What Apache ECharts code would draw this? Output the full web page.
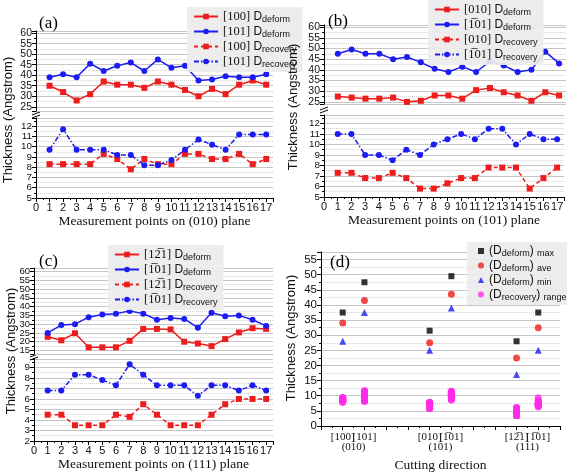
<!DOCTYPE html>
<html><head><meta charset="utf-8">
<script src="https://cdn.jsdelivr.net/npm/echarts@6/dist/echarts.min.js"></script>
<style>html,body{margin:0;padding:0;background:#fff}#c{width:567px;height:473px}</style>
</head><body><div id="c"></div>
<script>
// ---------- data ----------
const points = [1,2,3,4,5,6,7,8,9,10,11,12,13,14,15,16,17];
// (a) (010) plane
const a_def100 = [35,32,28,31,37,35.5,35.5,34,37,35.5,33,30,33.5,31,35.5,37.5,35.5];
const a_def101 = [39,40.5,39,45.5,42,44.5,46,42,47.5,43.5,44.5,37.5,38,39.5,39,39,40.5];
const a_rec100 = [8.3,8.3,8.3,8.3,9.3,8.8,7.8,8.8,8.3,8.3,9.3,9.3,8.8,8.8,9.3,8.3,8.8];
const a_rec101 = [9.7,11.7,9.7,9.7,9.7,9.2,9.2,8.2,8.2,8.7,9.7,10.7,10.2,9.7,11.2,11.2,11.2];
// (b) (101) plane
const b_def010 = [27.5,27,26.5,26.5,27,25,25.5,28,28,26.5,30.5,31.5,29.5,28,25.5,29.5,28];
const b_defm101 = [47.5,49.5,47.5,47.5,45,46,43.5,40.5,39,41.5,39,44,42,39,40,48.5,43];
const b_rec010 = [7.3,7.3,6.8,6.8,7.3,6.8,5.8,5.8,6.3,6.8,6.8,7.8,7.8,7.8,5.8,6.8,7.8];
const b_recm101 = [11,11,9,9,8.5,9.5,9,10,10.5,11,10.5,11.5,11.5,10,11,10.5,10.5];
// (c) (111) plane
const c_def1m21 = [22.8,20.8,24.8,16.8,16.8,16.8,20.5,27.3,27.3,27,20,19,17.5,21.5,25.3,27.7,27.3];
const c_defm101 = [25,29.5,30,34,35.5,36,37.5,36,32.5,33.5,33,28,36.5,34.5,35,32.5,29];
const c_rec1m21 = [4.5,4.5,3.5,3.5,3.5,4.5,4.3,5.5,4.5,3.5,3.5,3.5,4.5,5.5,6,6,6];
const c_recm101 = [6.8,6.8,8.3,8.3,7.8,7.3,9.3,8.3,7.3,7.3,7.3,6.3,7.3,7.3,6.8,7.3,6.8];
// (d) summary
const d_pos = [1,2,5,6,9,10];
const d_max = [37.5,47.5,31.5,49.5,28,37.5];
const d_ave = [34,41.5,27.5,43.5,22.5,32.5];
const d_min = [28,37.5,25,39,17,25];
const d_rec = [a_rec100,a_rec101,b_rec010,b_recm101,c_rec1m21,c_recm101];

const OB = '\u0305';
const dirLabels = {1:'[100]',2:'[101]',5:'[010]',6:'[1'+OB+'01]',9:'[12'+OB+'1]',10:'[1'+OB+'01]'};
const planeLabels = {1.5:'(010)',5.5:'(101)',9.5:'(111)'};

// ---------- styles ----------
const RED='#ee1c1c', BLUE='#1c1cf2', MAG='#ff2ae8';
const sans='Liberation Sans, Arial, sans-serif', serif='Liberation Serif, Times New Roman, serif';
const pairs=(xs,ys)=>xs.map((x,i)=>[x,ys[i]]);

const grids=[
 {left:36,right:294,top:31,height:80},
 {left:36,right:294,top:118,height:80},
 {left:324,right:1,top:25,height:79},
 {left:324,right:1,top:115,height:82},
 {left:34,right:294,top:268,height:86},
 {left:34,right:294,top:359,height:82},
 {left:321,right:7,top:252,height:175}
];

// fixedStep: ticks counted from a min that is a multiple of step
function yAx(gi,min,max,step,fs,fixedStep){
 const ax={type:'value',gridIndex:gi,min,max,
 axisLine:{show:true,lineStyle:{color:'#000'}},
 axisTick:{show:true,length:4,lineStyle:{color:'#000'}},
 minorTick:{show:true,splitNumber:2,length:2,lineStyle:{color:'#000'}},
 axisLabel:{margin:4,fontFamily:sans,fontSize:fs,color:'#111',showMinLabel:true,showMaxLabel:true,
   formatter:v=>(Math.abs(v/step-Math.round(v/step))<1e-6?String(Math.round(v*10)/10):'')},
 splitLine:{show:true,lineStyle:{color:'#c6c6c6',width:1}},
 minorSplitLine:{show:true,lineStyle:{color:'#d2d2d2',type:'dotted'}}};
 if(fixedStep){ax.interval=step;}else{ax.minInterval=step;ax.maxInterval=step;ax.splitNumber=Math.round((max-min)/step);}
 return ax;}
function xHidden(gi){return {type:'value',gridIndex:gi,min:0,max:17.5,show:false};}
function xPts(gi,name){return {type:'value',gridIndex:gi,min:0,max:17.5,interval:1,
 axisLine:{lineStyle:{color:'#000'}},axisTick:{length:4,lineStyle:{color:'#000'}},
 minorTick:{show:true,splitNumber:2,length:2,lineStyle:{color:'#000'}},
 axisLabel:{fontFamily:sans,fontSize:11,color:'#111',margin:4,
   formatter:v=>Number.isInteger(v)?String(v):''},
 splitLine:{show:false},name,nameLocation:'middle',nameGap:16,
 nameTextStyle:{fontFamily:serif,fontSize:13.5,color:'#111'}};}

function lineS(name,xi,yi,xs,ys,color,sym,dash){return {type:'line',name,xAxisIndex:xi,yAxisIndex:yi,
 data:pairs(xs,ys),color,symbol:sym,symbolSize:6,
 itemStyle:{color},lineStyle:{color,width:1.5,type:dash||'solid'},z:3};}
const RDASH=[4,3], BDASH=[5,2,1.5,2];

const series=[
 lineS('a1',0,0,points,a_def100,RED,'rect'),
 lineS('a2',0,0,points,a_def101,BLUE,'circle'),
 lineS('a3',1,1,points,a_rec100,RED,'rect',RDASH),
 lineS('a4',1,1,points,a_rec101,BLUE,'circle',BDASH),
 lineS('b1',2,2,points,b_def010,RED,'rect'),
 lineS('b2',2,2,points,b_defm101,BLUE,'circle'),
 lineS('b3',3,3,points,b_rec010,RED,'rect',RDASH),
 lineS('b4',3,3,points,b_recm101,BLUE,'circle',BDASH),
 lineS('c1',4,4,points,c_def1m21,RED,'rect'),
 lineS('c2',4,4,points,c_defm101,BLUE,'circle'),
 lineS('c3',5,5,points,c_rec1m21,RED,'rect',RDASH),
 lineS('c4',5,5,points,c_recm101,BLUE,'circle',BDASH),
 {type:'scatter',name:'d1',xAxisIndex:6,yAxisIndex:6,data:pairs(d_pos,d_max),symbol:'rect',symbolSize:6,itemStyle:{color:'#000'}},
 {type:'scatter',name:'d2',xAxisIndex:6,yAxisIndex:6,data:pairs(d_pos,d_ave),symbol:'circle',symbolSize:7,itemStyle:{color:RED}},
 {type:'scatter',name:'d3',xAxisIndex:6,yAxisIndex:6,data:pairs(d_pos,d_min),symbol:'triangle',symbolSize:7,itemStyle:{color:BLUE}},
 {type:'scatter',name:'d4',xAxisIndex:6,yAxisIndex:6,
   data:d_pos.flatMap((x,i)=>d_rec[i].map(v=>[x,v])),symbol:'circle',symbolSize:7,itemStyle:{color:MAG}}
];

const LBL={
 a1:'{br|[100]} {d|D}{s|deform}', a2:'{br|[101]} {d|D}{s|deform}',
 a3:'{br|[100]} {d|D}{s|recovery}', a4:'{br|[101]} {d|D}{s|recovery}',
 b1:'{br|[010]} {d|D}{s|deform}', b2:'{br|[1'+OB+'01]} {d|D}{s|deform}',
 b3:'{br|[010]} {d|D}{s|recovery}', b4:'{br|[1'+OB+'01]} {d|D}{s|recovery}',
 c1:'{br|[12'+OB+'1]} {d|D}{s|deform}', c2:'{br|[1'+OB+'01]} {d|D}{s|deform}',
 c3:'{br|[12'+OB+'1]} {d|D}{s|recovery}', c4:'{br|[1'+OB+'01]} {d|D}{s|recovery}',
 d1:'{d|(D}{s|deform}{d|)} {s|max}', d2:'{d|(D}{s|deform}{d|)} {s|ave}',
 d3:'{d|(D}{s|deform}{d|)} {s|min}', d4:'{d|(D}{s|recovery}{d|)} {s|range}'
};
const RICH={
 br:{fontFamily:serif,fontSize:12.5,lineHeight:15,color:'#111'},
 d:{fontFamily:sans,fontSize:12,lineHeight:15,color:'#111'},
 s:{fontFamily:sans,fontSize:9,lineHeight:9,verticalAlign:'bottom',color:'#111'}
};
function leg(names,left,top,iw,ih,gap,pad){return {orient:'vertical',left,top,data:names,itemGap:gap,itemWidth:iw,itemHeight:ih,
 backgroundColor:'rgba(236,236,236,0.92)',padding:pad,selectedMode:false,
 textStyle:{rich:RICH,fontSize:12},formatter:n=>LBL[n],z:10};}

function ytitle(x,y){return {type:'text',x,y,rotation:Math.PI/2,z:20,
 style:{text:'Thickness (Angstrom)',font:'13px '+sans,fill:'#111',align:'center',verticalAlign:'middle'}};}
function plabel(x,y,t){return {type:'text',x,y,z:20,style:{text:t,font:'17px '+serif,fill:'#000',verticalAlign:'middle'}};}
function brk(x,y){return {type:'group',x,y,z:20,children:[
 {type:'line',shape:{x1:-4,y1:0,x2:4,y2:-3},style:{stroke:'#000',lineWidth:1}},
 {type:'line',shape:{x1:-4,y1:3,x2:4,y2:0},style:{stroke:'#000',lineWidth:1}}]};}

const option={
 animation:false,
 grid:grids,
 xAxis:[xHidden(0),xPts(1,'Measurement points on (010) plane'),
  xHidden(2),xPts(3,'Measurement points on (101) plane'),
  xHidden(4),xPts(5,'Measurement points on (111) plane'),
  {type:'value',gridIndex:6,min:0,max:11,interval:1,
   axisLine:{lineStyle:{color:'#000'}},axisTick:{length:4,lineStyle:{color:'#000'}},
   minorTick:{show:true,splitNumber:2,length:2,lineStyle:{color:'#000'}},
   axisLabel:{fontFamily:serif,fontSize:11,color:'#111',margin:6,formatter:v=>dirLabels[v]||''},
   splitLine:{show:false},name:'Cutting direction',nameLocation:'middle',nameGap:32,
   nameTextStyle:{fontFamily:serif,fontSize:13.5,color:'#111'}},
  {type:'value',gridIndex:6,min:0,max:11,interval:0.5,position:'bottom',offset:10,
   axisLine:{show:false},axisTick:{show:false},splitLine:{show:false},
   axisLabel:{fontFamily:serif,fontSize:11,color:'#111',margin:6,formatter:v=>planeLabels[v]||''}}
 ],
 yAxis:[yAx(0,23,61,5,10.5,false),yAx(1,5,12.8,1,9.8,true),
  yAx(2,24,61,5,10.5,false),yAx(3,5,12.8,1,9.8,true),
  yAx(4,13,62,5,9.5,false),yAx(5,2,9.8,1,9.8,true),
  yAx(6,0,57.5,5,11.5,true)],
 legend:[leg(['a1','a2','a3','a4'],187,7,24,7,1,[3,6,3,6]),
  leg(['b1','b2','b3','b4'],428,0,24,7,1,[3,6,3,6]),
  leg(['c1','c2','c3','c4'],108,245,24,7,1,[3,6,3,6]),
  leg(['d1','d2','d3','d4'],467,242,6,6,1,[3,3,3,11])],
 series,
 graphic:[ytitle(8,120),ytitle(293,107),ytitle(11,351),ytitle(291,338),
  plabel(39,24,'(a)'),plabel(328,22,'(b)'),plabel(39,262,'(c)'),plabel(330,263,'(d)'),
  brk(36,115),brk(324,110),brk(34,357)]
};
const chart=echarts.init(document.getElementById('c'));
chart.setOption(option);
</script></body></html>
